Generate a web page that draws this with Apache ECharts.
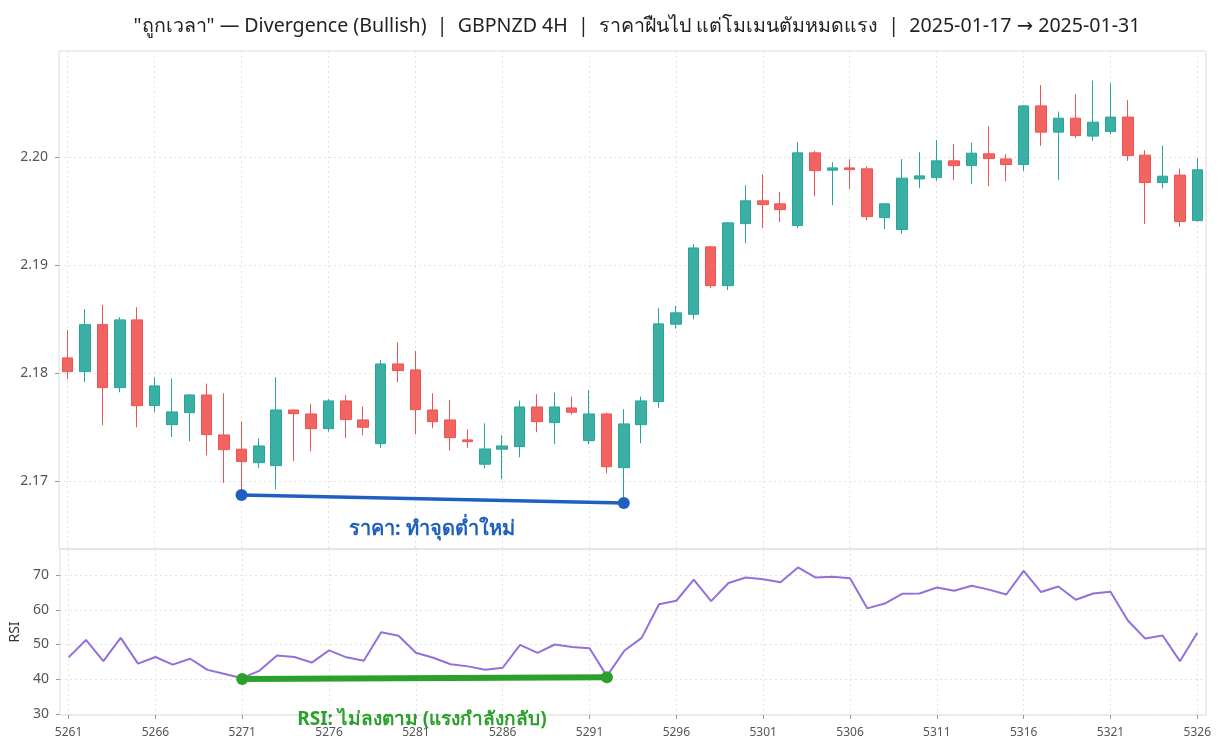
<!DOCTYPE html>
<html>
<head>
<meta charset="utf-8">
<script src="https://cdn.jsdelivr.net/npm/echarts@6/dist/echarts.min.js"></script>
<style>
  html, body { margin: 0; padding: 0; background: #fff; }
  #chart { width: 1222px; height: 750px; }
</style>
</head>
<body>
<div id="chart"></div>
<script>
// bar labels (4H candle index)
const bars = ['5261','5262','5263','5264','5265','5266','5267','5268','5269','5270',
  '5271','5272','5273','5274','5275','5276','5277','5278','5279','5280',
  '5281','5282','5283','5284','5285','5286','5287','5288','5289','5290',
  '5291','5292','5293','5294','5295','5296','5297','5298','5299','5300',
  '5301','5302','5303','5304','5305','5306','5307','5308','5309','5310',
  '5311','5312','5313','5314','5315','5316','5317','5318','5319','5320',
  '5321','5322','5323','5324','5325','5326'];

const opens = [2.18139,2.18012,2.18447,2.17864,2.18491,2.17697,2.17521,2.17632,2.17796,2.17426,
  2.17294,2.17169,2.17142,2.17657,2.17620,2.17484,2.17741,2.17565,2.17345,2.18083,
  2.18028,2.17657,2.17565,2.17380,2.17155,2.17294,2.17318,2.17685,2.17540,2.17676,
  2.17373,2.17620,2.17123,2.17521,2.17734,2.18451,2.18543,2.19167,2.18808,2.19382,
  2.19593,2.19565,2.19364,2.20037,2.19877,2.19898,2.19889,2.19438,2.19327,2.19796,
  2.19808,2.19963,2.19919,2.20028,2.19981,2.19929,2.20472,2.20229,2.20358,2.20192,
  2.20234,2.20368,2.20016,2.19762,2.19831,2.19410];
const closes = [2.18012,2.18447,2.17864,2.18491,2.17697,2.17880,2.17639,2.17796,2.17429,2.17290,
  2.17179,2.17324,2.17657,2.17623,2.17484,2.17741,2.17568,2.17497,2.18083,2.18021,
  2.17660,2.17549,2.17401,2.17364,2.17296,2.17324,2.17685,2.17549,2.17685,2.17636,
  2.17620,2.17132,2.17528,2.17741,2.18454,2.18556,2.19157,2.18808,2.19389,2.19593,
  2.19558,2.19512,2.20037,2.19873,2.19898,2.19882,2.19447,2.19565,2.19803,2.19824,
  2.19963,2.19919,2.20034,2.19984,2.19929,2.20472,2.20229,2.20358,2.20197,2.20321,
  2.20368,2.20012,2.19762,2.19821,2.19401,2.19880];
const lows = [2.17942,2.17914,2.17516,2.17821,2.17497,2.17636,2.17407,2.17368,2.17238,2.16981,
  2.16870,2.17120,2.16923,2.17185,2.17275,2.17456,2.17395,2.17423,2.17306,2.17914,
  2.17432,2.17488,2.17281,2.17303,2.17118,2.17016,2.17219,2.17451,2.17343,2.17614,
  2.17340,2.17071,2.16796,2.17349,2.17676,2.18410,2.18497,2.18784,2.18766,2.19201,
  2.19340,2.19395,2.19340,2.19636,2.19553,2.19701,2.19414,2.19331,2.19287,2.19710,
  2.19778,2.19787,2.19747,2.19729,2.19775,2.19870,2.20102,2.19787,2.20173,2.20148,
  2.20210,2.19963,2.19380,2.19710,2.19352,2.19401];
const highs = [2.18398,2.18590,2.18630,2.18516,2.18608,2.17960,2.17947,2.17806,2.17901,2.17812,
  2.17549,2.17392,2.17960,2.17660,2.17713,2.17759,2.17794,2.17688,2.18120,2.18281,
  2.18204,2.17812,2.17750,2.17479,2.17534,2.17423,2.17744,2.17803,2.17818,2.17781,
  2.17840,2.17632,2.17664,2.17781,2.18599,2.18620,2.19192,2.19173,2.19395,2.19738,
  2.19840,2.19673,2.20136,2.20056,2.19951,2.19979,2.19910,2.19565,2.19979,2.20044,
  2.20155,2.20118,2.20130,2.20284,2.20025,2.20481,2.20664,2.20419,2.20581,2.20706,
  2.20682,2.20525,2.20062,2.20105,2.19892,2.19988];

const rsi = [46.3,51.3,45.2,51.9,44.5,46.4,44.2,45.9,42.7,41.5,
  40.3,42.5,46.8,46.4,44.8,48.3,46.3,45.3,53.5,52.5,
  47.6,46.2,44.3,43.7,42.7,43.3,49.9,47.6,50.0,49.3,
  48.9,40.9,48.2,51.9,61.6,62.6,68.7,62.5,67.7,69.3,
  68.8,67.9,72.2,69.3,69.5,69.1,60.4,61.8,64.6,64.7,
  66.4,65.5,66.9,65.8,64.4,71.2,65.1,66.7,62.9,64.7,
  65.2,56.9,51.7,52.6,45.2,53.4];

// tick labels
const priceTicks = [2.17, 2.18, 2.19, 2.20];
const rsiTicks = [30, 40, 50, 60, 70];

// divergence markers
const priceDivX = ['5271', '5293'];
const priceDivY = [2.16870, 2.16796];
const rsiDivX = ['5271', '5292'];
const rsiDivY = [40.07, 40.6];

const titleText = '"ถูกเวลา" — Divergence (Bullish)  |  GBPNZD 4H  |  ราคาฝืนไป แต่โมเมนตัมหมดแรง  |  2025-01-17 → 2025-01-31';
const priceNote = 'ราคา: ทำจุดต่ำใหม่';
const rsiNote = 'RSI: ไม่ลงตาม (แรงกำลังกลับ)';

const UP = '#26a69a', DOWN = '#ef5350';
const FONT = '"Noto Sans", "DejaVu Sans", sans-serif';

const candles = opens.map((o, i) => [o, closes[i], lows[i], highs[i]]);
const priceDiv = priceDivX.map((x, i) => [x, priceDivY[i]]);
const rsiDiv = rsiDivX.map((x, i) => [x, rsiDivY[i]]);

const gridLine = { show: true, lineStyle: { color: '#e3e3e3', type: [2, 3], width: 1 } };

function xAxisBase(gridIndex, showLabels) {
  return {
    type: 'category', gridIndex: gridIndex, data: bars, boundaryGap: true,
    axisLine: { show: false },
    axisTick: { show: showLabels, alignWithLabel: true, interval: 4, length: 4, lineStyle: { color: '#999' } },
    axisLabel: { show: showLabels, interval: 4, color: '#555', fontSize: 12, fontFamily: FONT, margin: 12 },
    splitLine: Object.assign({ interval: 4, alignWithLabel: true }, gridLine)
  };
}

function yAxisBase(gridIndex, min, max, ticks, fmt) {
  return {
    type: 'value', gridIndex: gridIndex, min: min, max: max,
    axisLine: { show: false },
    axisTick: { show: true, length: 4, customValues: ticks, lineStyle: { color: '#999' } },
    axisLabel: { customValues: ticks, color: '#555', fontSize: 14, fontFamily: FONT, margin: 11, formatter: fmt },
    splitLine: gridLine
  };
}

const chart = echarts.init(document.getElementById('chart'));
const yPrice = yAxisBase(0, 2.1637, 2.2098, priceTicks, v => v.toFixed(2));
const yRsi = yAxisBase(1, 29.7, 77.5, rsiTicks, v => String(v));
yRsi.name = 'RSI';
yRsi.nameLocation = 'middle';
yRsi.nameGap = 33;
yRsi.nameTextStyle = { color: '#333', fontSize: 14, fontFamily: FONT };

chart.setOption({
  animation: false,
  backgroundColor: '#fff',
  title: {
    text: titleText, left: 632, textAlign: 'center', top: 11,
    textStyle: { fontSize: 19.6, fontWeight: 'normal', color: '#222', fontFamily: FONT }
  },
  grid: [
    { left: 59, top: 51, width: 1147, height: 498, show: true, borderColor: '#dcdcdc', borderWidth: 1, backgroundColor: 'transparent' },
    { left: 59, top: 549, width: 1147, height: 166, show: true, borderColor: '#dcdcdc', borderWidth: 1, backgroundColor: 'transparent' }
  ],
  xAxis: [ xAxisBase(0, false), xAxisBase(1, true) ],
  yAxis: [ yPrice, yRsi ],
  series: [
    {
      type: 'candlestick', xAxisIndex: 0, yAxisIndex: 0, data: candles,
      barWidth: 11,
      itemStyle: {
        color: 'rgba(38,166,154,0.9)', color0: 'rgba(239,83,80,0.9)',
        borderColor: UP, borderColor0: DOWN, borderWidth: 1
      }
    },
    {
      type: 'line', xAxisIndex: 0, yAxisIndex: 0, data: priceDiv,
      symbol: 'circle', symbolSize: 12, showAllSymbol: true, z: 5,
      lineStyle: { color: '#1f5fbf', width: 3.5 },
      itemStyle: { color: '#1f5fbf' }
    },
    {
      type: 'line', xAxisIndex: 1, yAxisIndex: 1, data: rsi,
      symbol: 'none', lineStyle: { color: '#9370db', width: 2 }
    },
    {
      type: 'line', xAxisIndex: 1, yAxisIndex: 1, data: rsiDiv,
      symbol: 'circle', symbolSize: 12, showAllSymbol: true, z: 5,
      lineStyle: { color: '#2ca02c', width: 6 },
      itemStyle: { color: '#2ca02c' }
    }
  ],
  graphic: [
    { type: 'text', x: 432, y: 529, z: 10,
      style: { text: priceNote, fill: '#1f5fbf', fontSize: 20, fontWeight: 'bold', fontFamily: FONT, align: 'center', verticalAlign: 'middle' } },
    { type: 'text', x: 422, y: 720, z: 10,
      style: { text: rsiNote, fill: '#2ca02c', fontSize: 19, fontWeight: 'bold', fontFamily: FONT, align: 'center', verticalAlign: 'middle' } }
  ]
});
</script>
</body>
</html>
